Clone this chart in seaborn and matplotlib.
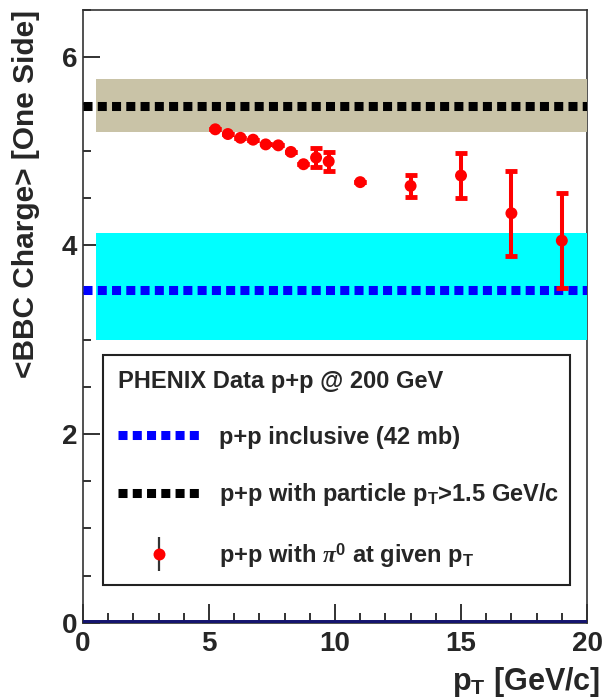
import numpy as np
import pandas as pd
import matplotlib
matplotlib.use("Agg")
import matplotlib.pyplot as plt
import seaborn as sns
from matplotlib.lines import Line2D
from matplotlib.legend_handler import HandlerTuple
from matplotlib.ticker import MultipleLocator

# ---------------- data ----------------
pt = [5.25, 5.75, 6.25, 6.75, 7.25, 7.75, 8.25, 8.75, 9.25, 9.75, 11.0, 13.0, 15.0, 17.0, 19.0]
bbc_charge = [5.23, 5.18, 5.14, 5.12, 5.07, 5.06, 4.99, 4.86, 4.93, 4.89, 4.67, 4.63, 4.74, 4.34, 4.05]
bbc_err = [0.0, 0.0, 0.0, 0.0, 0.0, 0.0, 0.0, 0.0, 0.10, 0.10, 0.0, 0.12, 0.24, 0.45, 0.50]

inclusive_mean = 3.53
inclusive_band = (3.00, 4.13)
hipt_mean = 5.48
hipt_band = (5.20, 5.76)
band_x = [0.5, 20.0]
line_x = [0.0, 20.0]

legend_title = "PHENIX Data p+p @ 200 GeV"
labels = ["p+p inclusive (42 mb)",
          r"p+p with particle p$_\mathrm{T}$>1.5 GeV/c",
          r"p+p with $\pi^0$ at given p$_\mathrm{T}$"]
xlabel = r"p$_\mathrm{T}$ [GeV/c]"
ylabel = "<BBC Charge> [One Side]"

# ---------------- style ----------------
sns.set_theme(style="white")
plt.rcParams["font.family"] = ["Liberation Sans", "DejaVu Sans"]
plt.rcParams["font.weight"] = "bold"
plt.rcParams["mathtext.fontset"] = "custom"
plt.rcParams["mathtext.rm"] = "Liberation Sans:bold"
plt.rcParams["mathtext.bf"] = "Liberation Sans:bold"
plt.rcParams["mathtext.it"] = "Liberation Serif:italic"

fig = plt.figure(figsize=(6.03, 6.99), dpi=100)
ax = fig.add_axes([0.1376, 0.1092, 0.9735 - 0.1376, 0.9864 - 0.1092])

dot = (0, (1.0, 0.58))
Z = 2.6

# bands
ax.fill_between(band_x, [hipt_band[0]] * 2, [hipt_band[1]] * 2,
                color="#C9C3A7", lw=0, zorder=Z)
ax.fill_between(band_x, [inclusive_band[0]] * 2, [inclusive_band[1]] * 2,
                color="#00FFFF", lw=0, zorder=Z)

# mean lines
lines_df = pd.DataFrame({"x": line_x * 2,
                         "y": [hipt_mean] * 2 + [inclusive_mean] * 2,
                         "set": ["hipt"] * 2 + ["incl"] * 2})
sns.lineplot(data=lines_df[lines_df.set == "hipt"], x="x", y="y", ax=ax,
             color="black", lw=6.5, linestyle=dot, dash_capstyle="butt",
             zorder=Z + 0.1)
sns.lineplot(data=lines_df[lines_df.set == "incl"], x="x", y="y", ax=ax,
             color="#0000FF", lw=6.5, linestyle=dot, dash_capstyle="butt",
             zorder=Z + 0.1)

# data points
pts = pd.DataFrame({"pt": pt, "charge": bbc_charge, "err": bbc_err})
ax.errorbar(pts.pt, pts.charge, yerr=pts.err, fmt="none", ecolor="#FF0000",
            elinewidth=2.9, capsize=4.5, capthick=3.5, zorder=Z + 0.2)
sns.scatterplot(data=pts, x="pt", y="charge", ax=ax, color="#FF0000",
                s=8.6 ** 2, edgecolor="none", zorder=Z + 0.3)

# bottom axis thick line
ax.axhline(0, color="#14146E", lw=4.3, zorder=Z + 0.4)

# axes
ax.set_xlim(0, 20)
ax.set_ylim(0, 6.5)
ax.xaxis.set_major_locator(MultipleLocator(5))
ax.xaxis.set_minor_locator(MultipleLocator(1))
ax.yaxis.set_major_locator(MultipleLocator(2))
ax.yaxis.set_minor_locator(MultipleLocator(0.5))
ax.set_axisbelow(True)
ax.tick_params(axis="x", which="major", direction="in", length=14, width=1.3,
               color="#222222", labelsize=20, pad=6, bottom=True)
ax.tick_params(axis="x", which="minor", direction="in", length=7, width=1.3,
               color="#222222", bottom=True)
ax.tick_params(axis="y", which="major", direction="in", length=12, width=1.3,
               color="#222222", labelsize=20, pad=4, left=True)
ax.tick_params(axis="y", which="minor", direction="in", length=6, width=1.3,
               color="#222222", left=True)
for lab in ax.get_xticklabels() + ax.get_yticklabels():
    lab.set_fontweight("bold")
for s in ax.spines.values():
    s.set_color("#333333")
    s.set_linewidth(1.2)

ax.set_xlabel(xlabel, fontsize=22, fontweight="bold", ha="right", va="baseline")
ax.xaxis.set_label_coords(1.027, -0.11)
ax.set_ylabel(ylabel, fontsize=21.5, fontweight="bold", ha="right", va="baseline")
ax.yaxis.set_label_coords(-0.097, 1.0)

# legend
h_incl = Line2D([], [], color="#0000FF", lw=6.5, linestyle=dot, dash_capstyle="butt")
h_hipt = Line2D([], [], color="black", lw=6.5, linestyle=dot, dash_capstyle="butt")
h_bar = Line2D([], [], color="#333333", marker="|", markersize=25,
               markeredgewidth=1.6, linestyle="none")
h_pt = Line2D([], [], color="#FF0000", marker="o", markersize=8.6,
              markeredgewidth=0, linestyle="none")
leg = ax.legend([h_incl, h_hipt, (h_bar, h_pt)], labels,
                handler_map={tuple: HandlerTuple(ndivide=1)},
                title=legend_title,
                title_fontproperties={"weight": "bold", "size": 17},
                prop={"weight": "bold", "size": 17},
                loc="upper left", bbox_to_anchor=(0.0397, 0.0615, 0.926, 0.3755),
                mode="expand", alignment="left", frameon=True, fancybox=False,
                edgecolor="#222222", framealpha=1, borderpad=0.65,
                labelspacing=1.38, handlelength=3.47, handletextpad=0.8,
                borderaxespad=0)
leg.get_frame().set_linewidth(1.5)

fig.savefig("out.png", dpi=100)
